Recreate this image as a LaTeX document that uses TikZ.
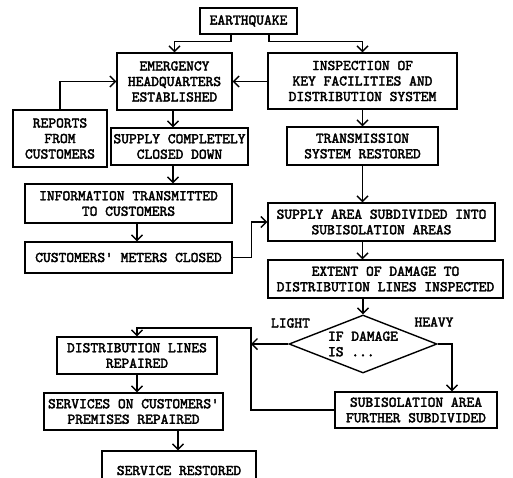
\documentclass[tikz,border=0pt]{standalone}
\usepackage{fontspec}
\setmonofont{lmmono10-regular.otf}[BoldFont = lmmono10-regular.otf, BoldFeatures = {FakeBold = 2.5}]
\usetikzlibrary{arrows.meta,shapes.geometric}

\tikzset{
	txt/.style = { font = \fontsize{14.8}{15.5}\selectfont\ttfamily\bfseries },
	box/.style = { txt, draw, line width = 1.4pt, align = center, inner sep = 0pt },
	arr/.style = { line width = 1.4pt, -{Straight Barb[length=5.5pt,width=11pt]} }
}

\begin{document}
	\begin{tikzpicture}[x=1pt,y=-1pt]
		\useasboundingbox ( 0, 0 ) rectangle ( 513, 477 );

		% блоки
		\node [box, line width = 2.4pt, minimum width = 97, minimum height = 26] (quake) at ( 248.5, 21 ) {EARTHQUAKE};
		\node [box, minimum width = 115, minimum height = 57] (hq) at ( 174.5, 81.5 ) {EMERGENCY\\HEADQUARTERS\\ESTABLISHED};
		\node [box, minimum width = 189, minimum height = 56] (insp) at ( 362.5, 81 ) {INSPECTION OF\\KEY FACILITIES AND\\DISTRIBUTION SYSTEM};
		\node [box, minimum width = 94, minimum height = 57] (reports) at ( 60, 138.5 ) {REPORTS\\FROM\\CUSTOMERS};
		\node [box, minimum width = 137, minimum height = 37] (closed) at ( 179.5, 146.5 ) {SUPPLY COMPLETELY\\CLOSED DOWN};
		\node [box, minimum width = 207, minimum height = 39] (info) at ( 128.5, 203.5 ) {INFORMATION TRANSMITTED\\TO CUSTOMERS};
		\node [box, minimum width = 207, minimum height = 31] (meters) at ( 128.5, 257.5 ) {CUSTOMERS' METERS CLOSED};
		\node [box, minimum width = 151, minimum height = 38] (trans) at ( 362.5, 146 ) {TRANSMISSION\\SYSTEM RESTORED};
		\node [box, minimum width = 227, minimum height = 38] (subdiv) at ( 381.5, 222 ) {SUPPLY AREA SUBDIVIDED INTO\\SUBISOLATION AREAS};
		\node [box, minimum width = 235, minimum height = 38] (extent) at ( 385.5, 279 ) {EXTENT OF DAMAGE TO\\DISTRIBUTION LINES INSPECTED};
		\node [box, diamond, align = left, aspect = 2.55, minimum width = 148, minimum height = 58] (dmg) at ( 363, 344 ) {IF DAMAGE\\IS ...};
		\node [box, minimum width = 162, minimum height = 36] (further) at ( 416, 410 ) {SUBISOLATION AREA\\FURTHER SUBDIVIDED};
		\node [box, minimum width = 160, minimum height = 37] (repaired) at ( 137, 355.5 ) {DISTRIBUTION LINES\\REPAIRED};
		\node [box, minimum width = 179, minimum height = 37] (premises) at ( 133.5, 411.5 ) {SERVICES ON CUSTOMERS'\\PREMISES REPAIRED};
		\node [box, minimum width = 154, minimum height = 39] (restored) at ( 179, 470.5 ) {SERVICE RESTORED};

		% подписи ветвей
		\node [txt] (light) at ( 290.5, 323 ) {LIGHT};
		\node [txt] (heavy) at ( 434, 322 ) {HEAVY};

		% точки излома
		\coordinate (lbus) at ( 251, 328 );

		% связи
		\draw [arr] ([xshift=-17.5]quake.south) -- ++( 0, 6 ) -| (hq.north);
		\draw [arr] ([xshift=20.5]quake.south) -- ++( 0, 6 ) -| (insp.north);
		\draw [arr, {Straight Barb[length=5.5pt,width=11pt]}-] (hq.east) -- (hq.east -| insp.west);
		\draw [arr] (reports.north) |- (hq.west);
		\draw [arr] ([xshift=-1.5]hq.south) -- ([xshift=-1.5]hq.south |- closed.north);
		\draw [arr] ([xshift=-1.5]hq.south |- closed.south) -- ([xshift=-1.5]hq.south |- info.north);
		\draw [arr] ([xshift=8.5]info.south) -- ([xshift=8.5]info.south |- meters.north);
		\draw [arr] (meters.east) -- ++( 19, 0 ) |- (subdiv.west);
		\draw [arr] (insp.south) -- (trans.north);
		\draw [arr] (trans.south) -- (trans.south |- subdiv.north);
		\draw [arr] (trans.south |- subdiv.south) -- (trans.south |- extent.north);
		\draw [arr] (dmg.north |- extent.south) -- (dmg.north);
		\draw [arr] (dmg.west) -- (dmg.west -| lbus);
		\draw [arr] (further.west) -| (lbus) -| (repaired.north);
		\draw [arr] (dmg.east) -| ([xshift=36]further.north);
		\draw [arr] (repaired.south) -- (repaired.south |- premises.north);
		\draw [arr] ([xshift=44.5]premises.south) -- ([xshift=44.5]premises.south |- restored.north);
	\end{tikzpicture}
\end{document}
